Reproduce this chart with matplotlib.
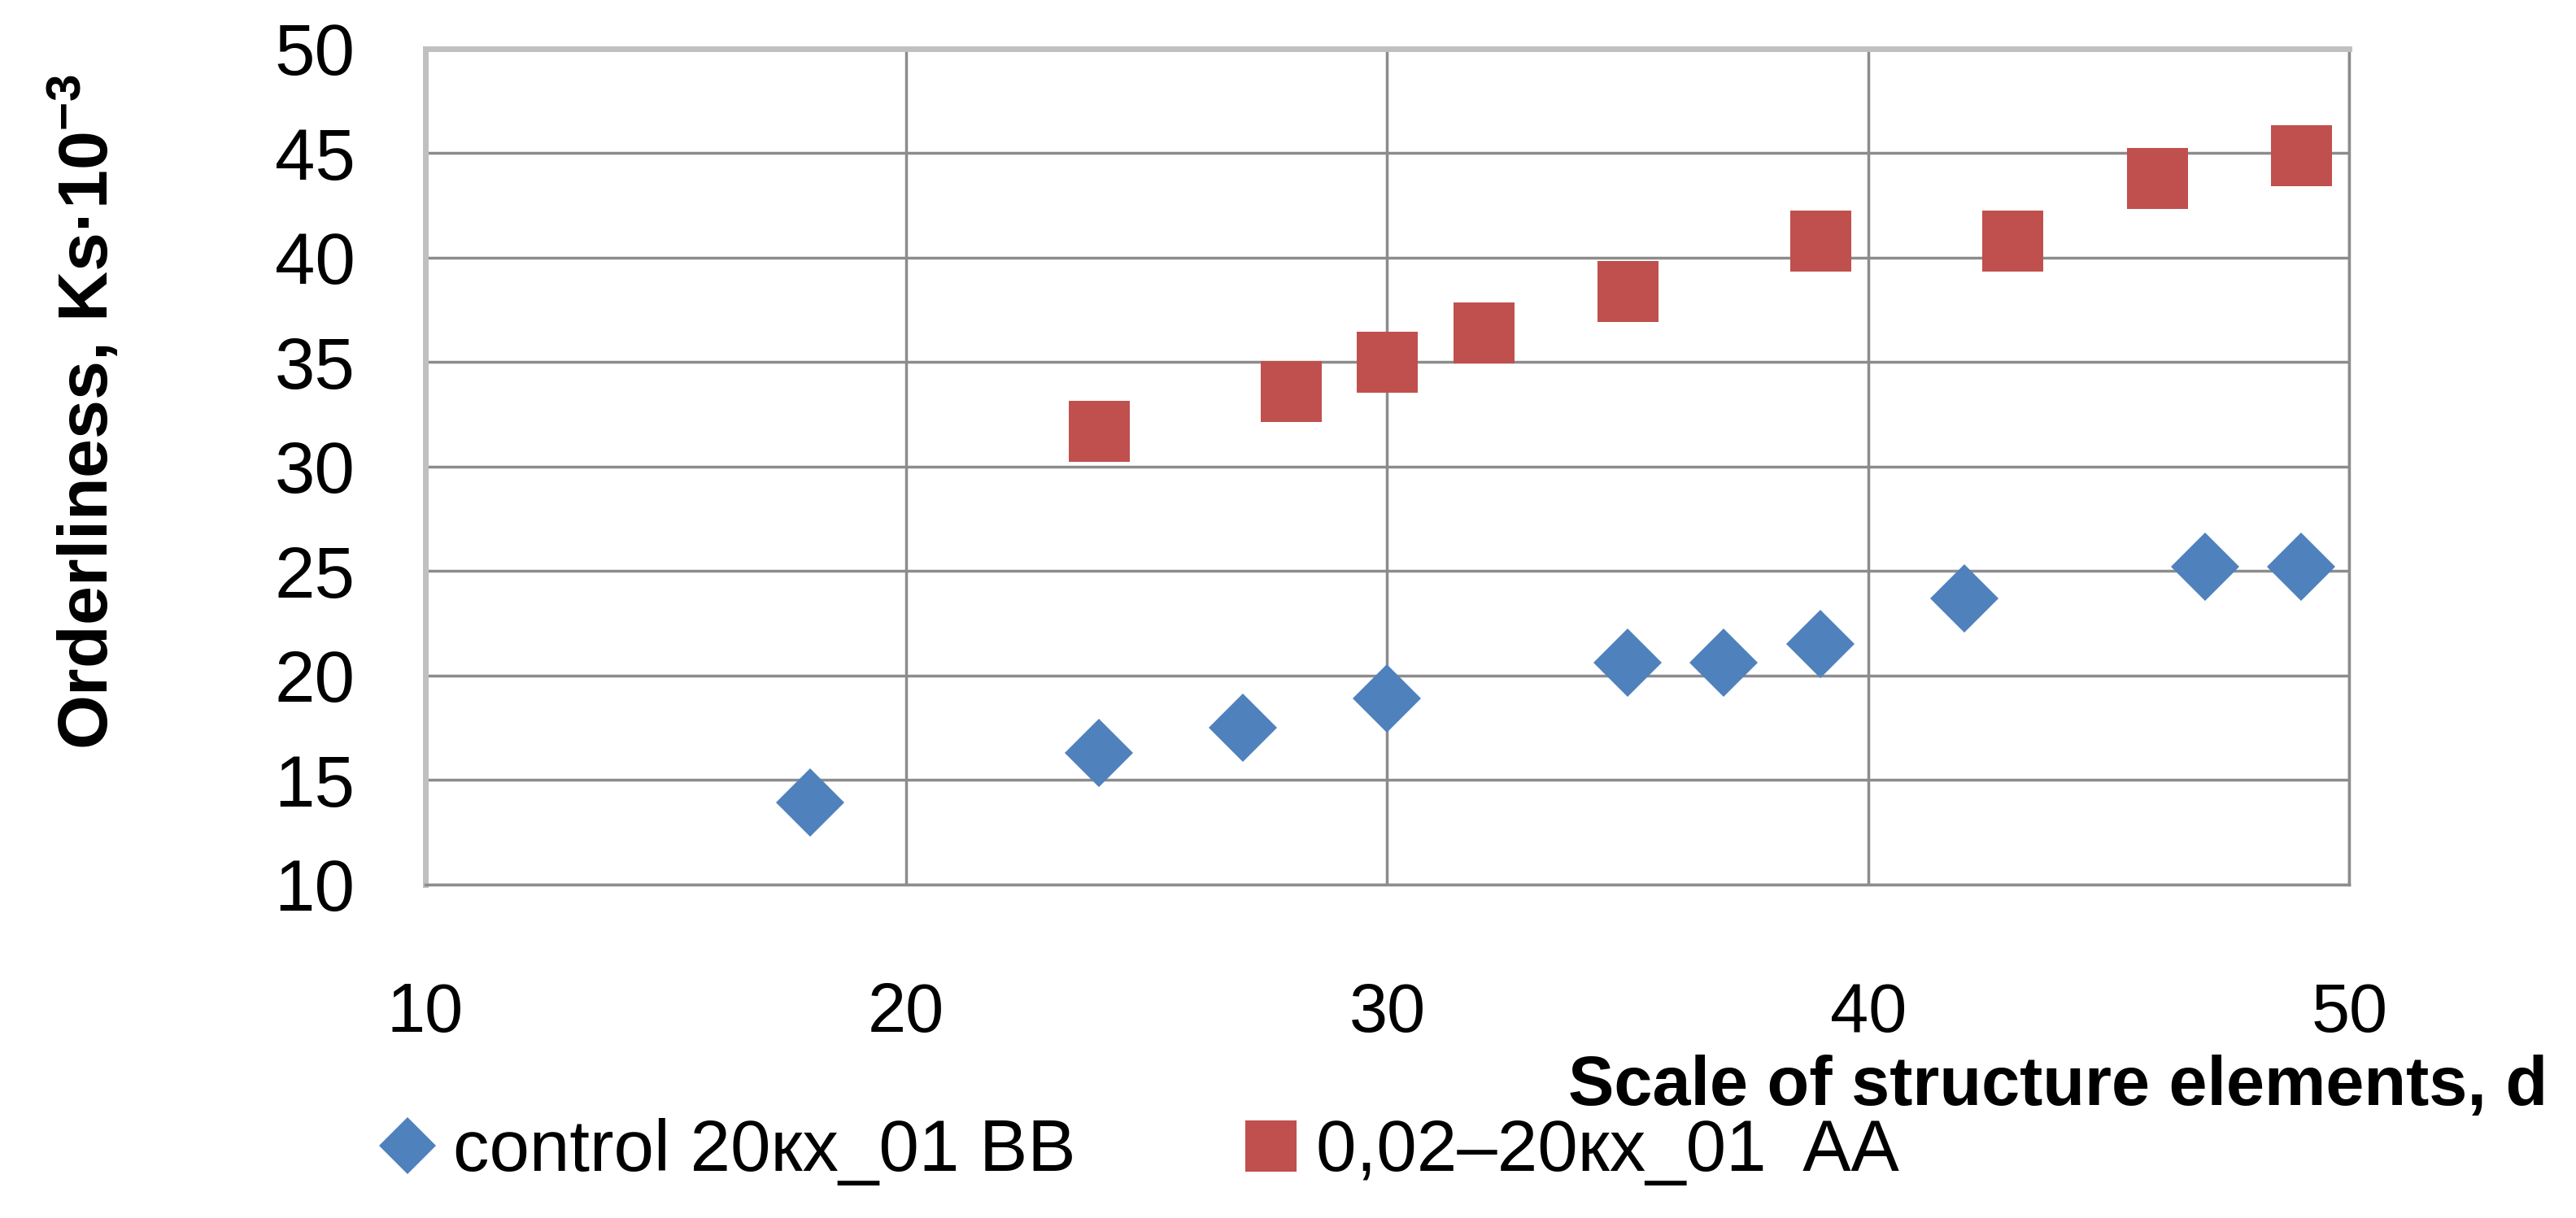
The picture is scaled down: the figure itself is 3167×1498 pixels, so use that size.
import matplotlib
matplotlib.use('Agg')
import matplotlib.pyplot as plt

# data
control_x = [18, 24, 27, 30, 35, 37, 39, 42, 47, 49]
control_y = [13.9, 16.3, 17.5, 18.9, 20.6, 20.6, 21.5, 23.7, 25.2, 25.2]
treated_x = [24, 28, 30, 32, 35, 39, 43, 46, 49]
treated_y = [31.7, 33.6, 35.0, 36.4, 38.4, 40.8, 40.8, 43.8, 44.9]

x_ticks = [10, 20, 30, 40, 50]
y_ticks = [10, 15, 20, 25, 30, 35, 40, 45, 50]

control_label = 'control 20кх_01 BB'
treated_label = '0,02–20кх_01  AA'
x_title = 'Scale of structure elements, d'
y_title = r'Orderliness, Ks·10$^{\mathbf{-3}}$'

BLUE = '#4F81BD'
RED = '#C0504D'
GRID = '#8c8c8c'

plt.rcParams['font.family'] = ['Liberation Sans', 'DejaVu Sans']
plt.rcParams['mathtext.fontset'] = 'custom'
plt.rcParams['mathtext.rm'] = 'Liberation Sans'
plt.rcParams['mathtext.bf'] = 'Liberation Sans:bold'

fig = plt.figure(figsize=(31.67, 14.98), dpi=100)
ax = fig.add_axes([0.165, 0.274, 0.747, 0.686])

ax.plot(control_x, control_y, linestyle='none', marker='D', markersize=43,
        color=BLUE, markeredgewidth=0, label=control_label, zorder=3)
ax.plot(treated_x, treated_y, linestyle='none', marker='s', markersize=54,
        color=RED, markeredgewidth=0, label=treated_label, zorder=3)

ax.set_xlim(10, 50)
ax.set_ylim(10, 50)
ax.set_xticks(x_ticks)
ax.set_yticks(y_ticks)
ax.grid(True, color=GRID, linewidth=2.5, zorder=0)
ax.set_axisbelow(True)

for s in ax.spines.values():
    s.set_color(GRID)
    s.set_linewidth(2.5)
for side in ('left', 'top'):
    ax.spines[side].set_color('#c0c0c0')
    ax.spines[side].set_linewidth(5)

ax.tick_params(axis='x', length=0, pad=86, labelsize=61)
ax.tick_params(axis='y', length=0, pad=62, labelsize=64)

fig.text(0.989, 0.1075, x_title, ha='right', va='center', fontsize=61,
         fontweight='bold')
fig.text(0.033, 0.662, y_title, ha='center', va='center', rotation=90,
         fontsize=62, fontweight='bold')

fig.legend(loc='center left', bbox_to_anchor=(0.1497, 0.054), ncol=2,
           frameon=False, fontsize=64, markerscale=0.84, handlelength=0.6,
           handletextpad=0.33, columnspacing=2.4, borderpad=0,
           borderaxespad=0)

fig.savefig('out.png', dpi=100, facecolor='white')
